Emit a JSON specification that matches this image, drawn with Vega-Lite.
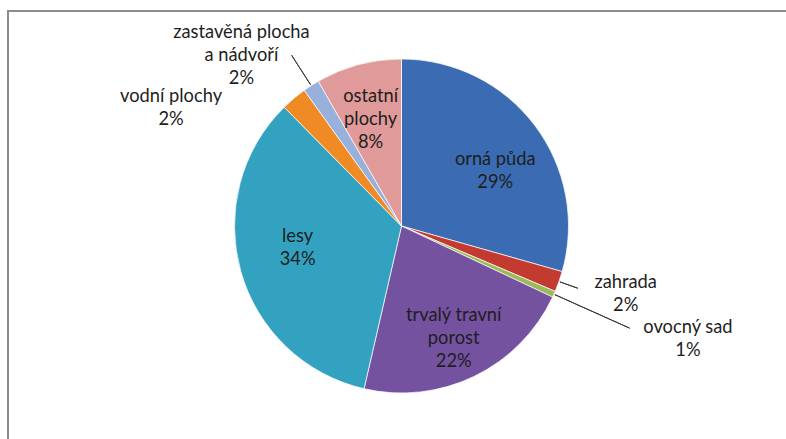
{
  "$schema": "https://vega.github.io/schema/vega-lite/v6.json",
  "width": 787,
  "height": 430,
  "autosize": "none",
  "padding": {"left": 8, "top": 11, "right": -9, "bottom": -2},
  "background": "white",
  "view": {"stroke": "#8c8c8c", "strokeWidth": 2},
  "config": {"text": {"font": "Lato", "fontSize": 18.3, "color": "#1e1e1e", "lineBreak": "\n", "lineHeight": 23, "align": "center", "baseline": "middle"}},
  "data": {
    "values": [
      {"order": 1, "name": "orná půda", "value": 29.4, "label": "orná půda\n29%"},
      {"order": 2, "name": "zahrada", "value": 2.0, "label": "zahrada\n2%"},
      {"order": 3, "name": "ovocný sad", "value": 0.6, "label": "ovocný sad\n1%"},
      {"order": 4, "name": "trvalý travní porost", "value": 21.6, "label": "trvalý travní\nporost\n22%"},
      {"order": 5, "name": "lesy", "value": 34.0, "label": "lesy\n34%"},
      {"order": 6, "name": "vodní plochy", "value": 2.5, "label": "vodní plochy\n2%"},
      {"order": 7, "name": "zastavěná plocha a nádvoří", "value": 1.6, "label": "zastavěná plocha\na nádvoří\n2%"},
      {"order": 8, "name": "ostatní plochy", "value": 8.3, "label": "ostatní\nplochy\n8%"}
    ]
  },
  "encoding": {
    "theta": {"field": "value", "type": "quantitative", "stack": true},
    "order": {"field": "order", "type": "quantitative"},
    "detail": {"field": "name", "type": "nominal"}
  },
  "layer": [
    {
      "mark": {"type": "arc", "radius": 167, "stroke": "#ffffff", "strokeWidth": 1, "strokeOpacity": 0.7},
      "encoding": {
        "color": {
          "field": "name", "type": "nominal", "legend": null,
          "scale": {
            "domain": ["orná půda", "zahrada", "ovocný sad", "trvalý travní porost", "lesy", "vodní plochy", "zastavěná plocha a nádvoří", "ostatní plochy"],
            "range": ["#3B6CB3", "#C23A30", "#9BBB59", "#7452A0", "#33A2C0", "#F08A24", "#98B1DB", "#DF9A99"]
          }
        }
      }
    },
    {
      "mark": {"type": "arc", "radius": 187, "radius2": 168, "padAngle": 0.6, "filled": false, "stroke": "#3a3a3a", "strokeWidth": 1},
      "encoding": {"opacity": {"condition": {"test": "datum.name === 'zahrada'", "value": 1}, "value": 0}}
    },
    {
      "mark": {"type": "arc", "radius": 250, "radius2": 168, "padAngle": 0.6, "filled": false, "stroke": "#3a3a3a", "strokeWidth": 1},
      "encoding": {"opacity": {"condition": {"test": "datum.name === 'ovocný sad'", "value": 1}, "value": 0}}
    },
    {
      "mark": {"type": "arc", "radius": 203, "radius2": 168, "padAngle": 0.6, "filled": false, "stroke": "#3a3a3a", "strokeWidth": 1},
      "encoding": {"opacity": {"condition": {"test": "datum.name === 'zastavěná plocha a nádvoří'", "value": 1}, "value": 0}}
    },
    {
      "mark": {"type": "text", "radius": 110, "dx": 6, "dy": 0},
      "encoding": {"text": {"condition": {"test": "datum.name === 'orná půda'", "field": "label"}, "value": ""}}
    },
    {
      "mark": {"type": "text", "radius": 112, "dx": -2, "dy": -21},
      "encoding": {"text": {"condition": {"test": "datum.name === 'ostatní plochy'", "field": "label"}, "value": ""}}
    },
    {
      "mark": {"type": "text", "radius": 108, "dx": 0, "dy": -18},
      "encoding": {"text": {"condition": {"test": "datum.name === 'lesy'", "field": "label"}, "value": ""}}
    },
    {
      "mark": {"type": "text", "radius": 124, "dx": -2, "dy": -22},
      "encoding": {"text": {"condition": {"test": "datum.name === 'trvalý travní porost'", "field": "label"}, "value": ""}}
    },
    {
      "mark": {"type": "text", "radius": 233, "dx": -34, "dy": 3},
      "encoding": {"text": {"condition": {"test": "datum.name === 'zastavěná plocha a nádvoří'", "field": "label"}, "value": ""}}
    },
    {
      "mark": {"type": "text", "radius": 190, "dx": -108, "dy": 16},
      "encoding": {"text": {"condition": {"test": "datum.name === 'vodní plochy'", "field": "label"}, "value": ""}}
    },
    {
      "mark": {"type": "text", "radius": 190, "dx": 45, "dy": -6},
      "encoding": {"text": {"condition": {"test": "datum.name === 'zahrada'", "field": "label"}, "value": ""}}
    },
    {
      "mark": {"type": "text", "radius": 190, "dx": 113, "dy": 24},
      "encoding": {"text": {"condition": {"test": "datum.name === 'ovocný sad'", "field": "label"}, "value": ""}}
    }
  ]
}
